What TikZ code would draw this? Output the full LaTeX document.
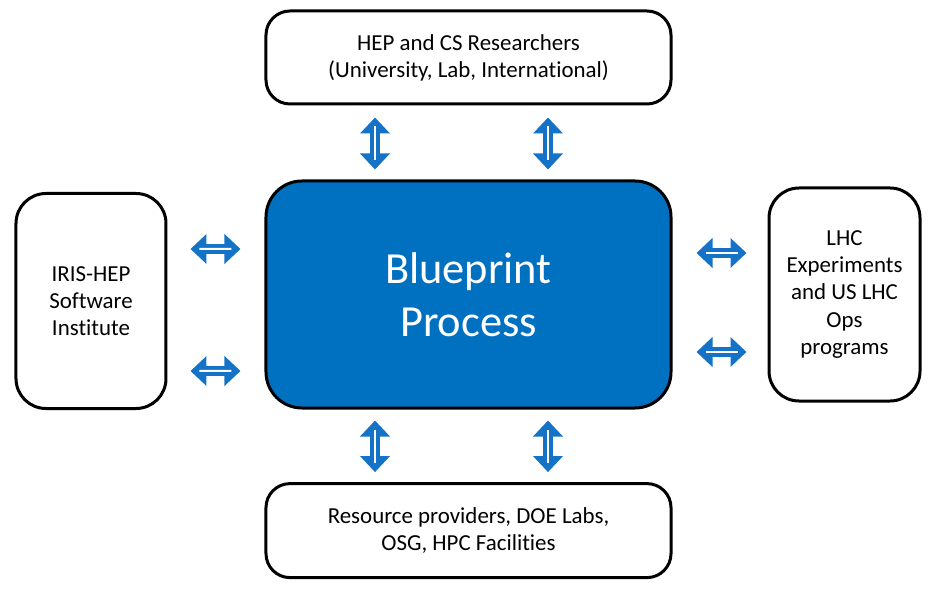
\documentclass[tikz,border=0pt]{standalone}
\usepackage{fontspec}
\setmainfont{Carlito}[Ligatures={NoCommon,NoContextual}]
\usetikzlibrary{calc, positioning, arrows.meta}
\definecolor{bpblue}{HTML}{0070C0}
\definecolor{arrowblue}{HTML}{1473C6}

\begin{document}
\begin{tikzpicture}[x=0.5bp, y=-0.5bp,
  box/.style={draw, line width=1.5bp, rounded corners=12bp, align=center,
    inner sep=2bp, font=\fontsize{11.5}{13.6}\selectfont},
  dblarrow/.style={draw=arrowblue, line width=4.8bp,
    {Triangle[width=14.5bp, length=8bp]}-{Triangle[width=14.5bp, length=8bp]},
    postaction={draw=white, line width=1bp, shorten <=4.5bp, shorten >=4.5bp, -}}]
  % Frame
  \useasboundingbox (0,0) rectangle (937,593);

  % Centre
  \node[box, fill=bpblue, text=white, rounded corners=18bp,
    minimum width=202.5bp, minimum height=113.5bp,
    font=\fontsize{22.3}{26.5}\selectfont] (blueprint) at (468.5,294.5) {Blueprint\\Process};

  % Partners
  \node[box, minimum width=202.5bp, minimum height=46.5bp, above=37bp of blueprint] (hep)
    {HEP and CS Researchers\\(University, Lab, International)};
  \node[box, minimum width=202.5bp, minimum height=47bp, below=36.3bp of blueprint] (res)
    {Resource providers, DOE Labs,\\OSG, HPC Facilities};
  \node[box, rounded corners=15bp, minimum width=75bp, minimum height=107.5bp,
    left=48.5bp of blueprint, yshift=-3.25bp] (iris) {IRIS-HEP\\Software\\Institute};
  \node[box, rounded corners=15bp, minimum width=75.5bp, minimum height=106.5bp,
    right=47.5bp of blueprint] (lhc) {LHC\\Experiments\\and US LHC\\Ops\\programs};

  % Top arrows
  \draw[dblarrow] ($(hep.south)+(-93.5,12)$) -- ($(blueprint.north)+(-93.5,-10)$);
  \draw[dblarrow] ($(hep.south)+(79.5,12)$) -- ($(blueprint.north)+(79.5,-10)$);

  % Bottom arrows
  \draw[dblarrow] ($(blueprint.south)+(-93.5,11)$) -- ($(res.north)+(-93.5,-10)$);
  \draw[dblarrow] ($(blueprint.south)+(79.5,11)$) -- ($(res.north)+(79.5,-10)$);

  % Left arrows
  \draw[dblarrow] ($(iris.east)+(23,-52)$) -- ($(blueprint.west)+(-24,-45.5)$);
  \draw[dblarrow] ($(iris.east)+(23,70)$) -- ($(blueprint.west)+(-24,76.5)$);

  % Right arrows
  \draw[dblarrow] ($(blueprint.east)+(24,-41.5)$) -- ($(lhc.west)+(-21,-41.5)$);
  \draw[dblarrow] ($(blueprint.east)+(24,57.5)$) -- ($(lhc.west)+(-21,57.5)$);
\end{tikzpicture}
\end{document}
